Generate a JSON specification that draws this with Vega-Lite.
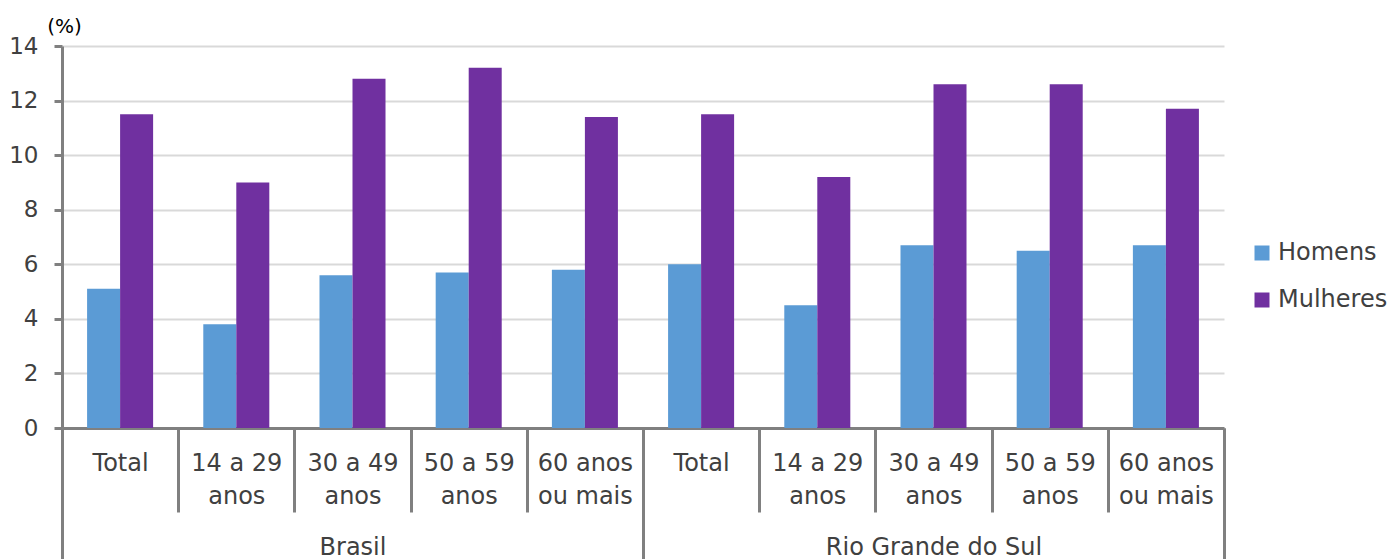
{
  "$schema": "https://vega.github.io/schema/vega-lite/v6.json",
  "width": 1162,
  "height": 382,
  "autosize": {"type": "none"},
  "padding": {"left": 62, "top": 46, "right": 168, "bottom": 131},
  "config": {
    "font": "DejaVu Sans",
    "view": {"stroke": null},
    "axis": {"labelColor": "#404040", "labelFont": "DejaVu Sans"}
  },
  "data": {
    "values": [
      {"regiao": "Brasil", "cat": "Brasil|Total", "sexo": "Homens", "valor": 5.1},
      {"regiao": "Brasil", "cat": "Brasil|Total", "sexo": "Mulheres", "valor": 11.5},
      {"regiao": "Brasil", "cat": "Brasil|14 a 29|anos", "sexo": "Homens", "valor": 3.8},
      {"regiao": "Brasil", "cat": "Brasil|14 a 29|anos", "sexo": "Mulheres", "valor": 9.0},
      {"regiao": "Brasil", "cat": "Brasil|30 a 49|anos", "sexo": "Homens", "valor": 5.6},
      {"regiao": "Brasil", "cat": "Brasil|30 a 49|anos", "sexo": "Mulheres", "valor": 12.8},
      {"regiao": "Brasil", "cat": "Brasil|50 a 59|anos", "sexo": "Homens", "valor": 5.7},
      {"regiao": "Brasil", "cat": "Brasil|50 a 59|anos", "sexo": "Mulheres", "valor": 13.2},
      {"regiao": "Brasil", "cat": "Brasil|60 anos|ou mais", "sexo": "Homens", "valor": 5.8},
      {"regiao": "Brasil", "cat": "Brasil|60 anos|ou mais", "sexo": "Mulheres", "valor": 11.4},
      {"regiao": "Rio Grande do Sul", "cat": "RS|Total", "sexo": "Homens", "valor": 6.0},
      {"regiao": "Rio Grande do Sul", "cat": "RS|Total", "sexo": "Mulheres", "valor": 11.5},
      {"regiao": "Rio Grande do Sul", "cat": "RS|14 a 29|anos", "sexo": "Homens", "valor": 4.5},
      {"regiao": "Rio Grande do Sul", "cat": "RS|14 a 29|anos", "sexo": "Mulheres", "valor": 9.2},
      {"regiao": "Rio Grande do Sul", "cat": "RS|30 a 49|anos", "sexo": "Homens", "valor": 6.7},
      {"regiao": "Rio Grande do Sul", "cat": "RS|30 a 49|anos", "sexo": "Mulheres", "valor": 12.6},
      {"regiao": "Rio Grande do Sul", "cat": "RS|50 a 59|anos", "sexo": "Homens", "valor": 6.5},
      {"regiao": "Rio Grande do Sul", "cat": "RS|50 a 59|anos", "sexo": "Mulheres", "valor": 12.6},
      {"regiao": "Rio Grande do Sul", "cat": "RS|60 anos|ou mais", "sexo": "Homens", "valor": 6.7},
      {"regiao": "Rio Grande do Sul", "cat": "RS|60 anos|ou mais", "sexo": "Mulheres", "valor": 11.7}
    ]
  },
  "layer": [
    {
      "mark": {"type": "bar"},
      "encoding": {
        "x": {
          "field": "cat", "type": "nominal", "sort": null,
          "scale": {"paddingInner": 0, "paddingOuter": 0},
          "axis": {
            "title": null, "orient": "bottom",
            "labelExpr": "slice(split(datum.value, '|'), 1)",
            "labelAngle": 0, "labelFontSize": 24, "labelLineHeight": 33,
            "labelPadding": -61, "labelBaseline": "top", "labelLimit": 0,
            "domainColor": "#808080", "domainWidth": 3,
            "tickColor": "#808080", "tickWidth": 3, "tickSize": 84,
            "tickBand": "extent", "grid": false
          }
        },
        "xOffset": {"field": "sexo", "type": "nominal", "sort": ["Homens", "Mulheres"], "scale": {"paddingInner": 0, "paddingOuter": 0.76}},
        "y": {
          "field": "valor", "type": "quantitative",
          "scale": {"domain": [0, 14]},
          "axis": {
            "values": [0, 2, 4, 6, 8, 10, 12, 14],
            "title": "(%)", "titleAngle": 0, "titleX": 2, "titleY": -20,
            "titleAlign": "center", "titleBaseline": "middle",
            "titleFontSize": 20, "titleFontWeight": "normal", "titleColor": "#000000",
            "labelFontSize": 23, "labelPadding": 16,
            "domainColor": "#808080", "domainWidth": 3,
            "tickColor": "#808080", "tickWidth": 3, "tickSize": 8,
            "gridColor": "#d9d9d9", "gridWidth": 2
          }
        },
        "color": {
          "field": "sexo", "type": "nominal",
          "scale": {"domain": ["Homens", "Mulheres"], "range": ["#5B9BD5", "#7030A0"]},
          "legend": {
            "title": null, "orient": "none", "legendX": 1188, "legendY": 195,
            "symbolType": "square", "symbolSize": 225, "symbolStrokeWidth": 0,
            "labelFontSize": 24, "labelColor": "#404040", "rowPadding": 23, "labelOffset": 4
          }
        }
      }
    },
    {
      "mark": {"type": "tick", "opacity": 0},
      "encoding": {
        "x": {
          "field": "regiao", "type": "nominal", "sort": null,
          "scale": {"paddingInner": 0, "paddingOuter": 0},
          "axis": {
            "title": null, "orient": "bottom", "labelAngle": 0,
            "labelFontSize": 24, "labelPadding": -24, "labelBaseline": "top", "labelLimit": 0,
            "domain": false, "tickColor": "#808080", "tickWidth": 3, "tickSize": 131,
            "tickBand": "extent", "grid": false
          }
        }
      }
    }
  ],
  "resolve": {"scale": {"x": "independent"}}
}
